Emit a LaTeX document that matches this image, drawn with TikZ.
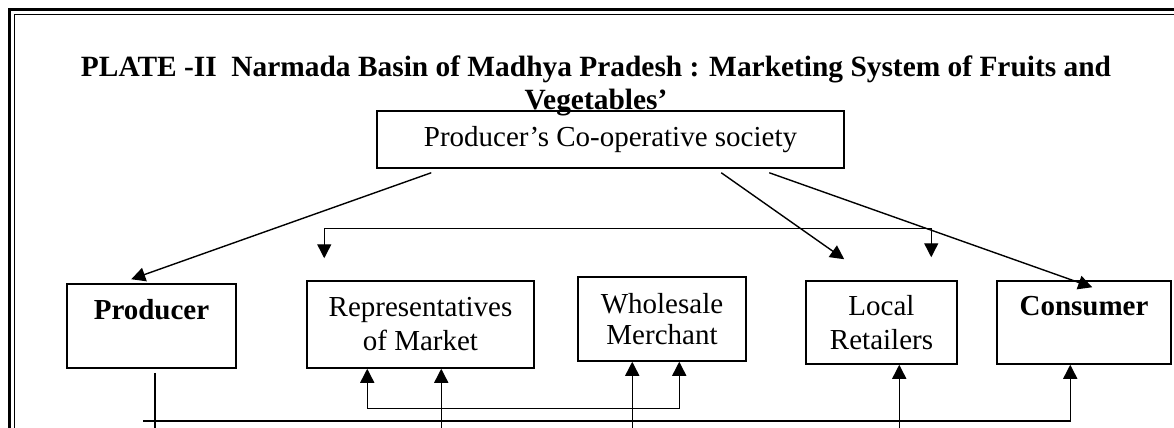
\documentclass[tikz,border=0pt]{standalone}
\usepackage{fontspec}
\setmainfont{Liberation Serif}
\usepackage{tikz}
\usetikzlibrary{arrows.meta,positioning,calc}

\begin{document}
\begin{tikzpicture}[x=0.5pt,y=-0.5pt,
    box/.style={draw,line width=0.75pt,inner sep=0pt,align=center,
      font=\fontsize{14.5}{17}\selectfont},
    boldbox/.style={box,font=\fontsize{14.5}{17}\selectfont\bfseries},
    flow/.style={line width=0.7pt,-{Triangle[length=7pt,width=7pt]}},
    twoway/.style={line width=0.7pt,
      {Triangle[length=7pt,width=7pt]}-{Triangle[length=7pt,width=7pt]}},
    link/.style={line width=0.7pt}]
  \useasboundingbox (0,0) rectangle (1174,428);
  \coordinate (floor) at (0,428);

  % page frame (double rule)
  \draw[line width=1.6pt] (9.5,428) |- (1174,9.5);
  \draw[line width=0.6pt] (14.5,428) |- (1174,14.5);

  \node[font=\fontsize{14.7}{15}\selectfont\bfseries,align=center,anchor=north,inner sep=0pt]
    (title) at (596,55)
    {PLATE -II\ \ Narmada Basin of Madhya Pradesh : Marketing System of Fruits and\\[1.5pt]Vegetables'};

  % boxes
  \node[box,minimum width=233.5pt,minimum height=28.5pt] (coop) at (610.5,139.5)
    {Producer's Co-operative society};
  \node[boldbox,minimum width=84.5pt,minimum height=42pt] (prod) at (151.5,326) {Producer\\~};
  \node[box,minimum width=113.5pt,minimum height=43.5pt] (rep) at (420.5,324.5)
    {Representatives\\of Market};
  \node[box,font=\fontsize{14.5}{15.5}\selectfont,minimum width=84pt,minimum height=42pt]
    (whole) at (662,319) {Wholesale\\Merchant};
  \node[box,minimum width=75.5pt,minimum height=41.5pt] (local) at (881.5,322.5) {Local\\Retailers};
  \node[boldbox,minimum width=87pt,minimum height=41.5pt] (cons) at (1084,322.5) {Consumer\\~};

  % from the co-operative society
  \draw[flow] ($(coop.south west)+(55,4)$) -- ($(prod.north west)+(65,-4)$);
  \draw[flow] ($(coop.south west)+(345,4)$) -- ($(local.north west)+(39,-21)$);
  \draw[flow] ($(coop.south west)+(393,4)$) -- ($(cons.north west)+(96,7)$);
  \draw[twoway] ($(rep.north west)+(18,-22)$) -- ++(0,-30) -| ($(local.north west)+(126,-23)$);

  % supply lines underneath
  \draw[link] ($(prod.south)+(3.5,4)$) coordinate (p0) -- (p0 |- floor);
  \coordinate (rail) at (143,421);
  \draw[flow] (rail) -| ($(cons.south west)+(74,0)$);
  \foreach \n/\dx in {rep/135,whole/55,local/94} {
    \path ($(\n.south west)+(\dx,0)$) coordinate (tip);
    \draw[flow] (tip |- floor) -- (tip);
  }
  \draw[twoway] ($(rep.south west)+(61,0)$) -- ++(0,40) -| ($(whole.south west)+(102,0)$);
\end{tikzpicture}
\end{document}
